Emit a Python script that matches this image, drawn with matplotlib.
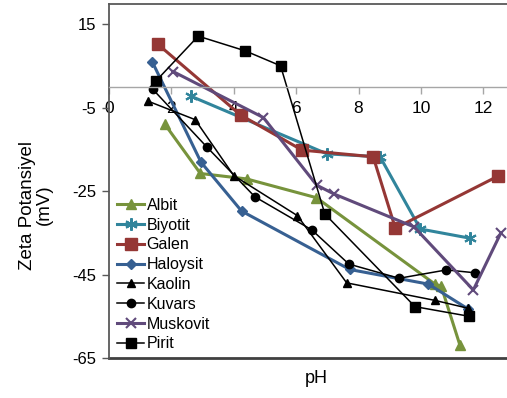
import matplotlib.pyplot as plt

plt.rcParams['font.family'] = ['Liberation Sans', 'DejaVu Sans']
plt.rcParams['axes.unicode_minus'] = False

albit_x = [1.79, 2.93, 4.41, 6.65, 10.45, 10.65, 11.25]
albit_y = [-9.0, -20.8, -22.1, -26.6, -47.3, -47.8, -61.9]

biyotit_x = [2.63, 6.99, 8.69, 9.98, 11.57]
biyotit_y = [-2.3, -16.1, -16.8, -34.1, -36.3]

galen_x = [1.56, 4.22, 6.19, 8.47, 9.18, 12.48]
galen_y = [10.2, -6.8, -15.2, -16.8, -33.9, -21.4]

haloysit_x = [1.39, 2.95, 4.25, 7.72, 10.24, 11.52]
haloysit_y = [5.9, -18.1, -29.8, -43.8, -47.3, -53.3]

kaolin_x = [1.26, 2.76, 4.0, 6.04, 7.62, 10.45, 11.52]
kaolin_y = [-3.5, -7.9, -21.3, -30.9, -47.0, -51.2, -53.1]

kuvars_x = [1.40, 3.13, 4.68, 6.50, 7.69, 9.30, 10.82, 11.75]
kuvars_y = [-0.6, -14.4, -26.4, -34.3, -42.5, -45.9, -43.9, -44.6]

muskovit_x = [2.06, 4.95, 6.66, 7.21, 9.78, 11.68, 12.56]
muskovit_y = [3.6, -7.4, -23.6, -25.7, -33.6, -48.7, -35.1]

pirit_x = [1.51, 2.86, 4.36, 5.5, 6.92, 9.81, 11.54]
pirit_y = [1.4, 12.1, 8.6, 5.0, -30.5, -52.7, -55.0]

x_ticks = [0, 2, 4, 6, 8, 10, 12]
y_ticks = [-65, -45, -25, -5, 15]

fig = plt.figure(figsize=(5.07, 3.98), dpi=100)
ax = fig.add_axes([109 / 507, 40 / 398, 1 - 109 / 507, 354 / 398])

ax.plot(albit_x, albit_y, color='#77933C', lw=2.2, marker='^', ms=7, label='Albit')
ax.plot(biyotit_x, biyotit_y, color='#31859C', lw=2.2, marker=(6, 2, 0), ms=9,
        mew=1.5, label='Biyotit')
ax.plot(galen_x, galen_y, color='#953735', lw=2.2, marker='s', ms=8, label='Galen')
ax.plot(haloysit_x, haloysit_y, color='#376092', lw=2.2, marker='D', ms=5, label='Haloysit')
ax.plot(kaolin_x, kaolin_y, color='black', lw=1.1, marker='^', ms=6, label='Kaolin')
ax.plot(kuvars_x, kuvars_y, color='black', lw=1.1, marker='o', ms=6, label='Kuvars')
ax.plot(muskovit_x, muskovit_y, color='#604A7B', lw=2.2, marker='x', ms=7, mew=1.5,
        label='Muskovit')
ax.plot(pirit_x, pirit_y, color='black', lw=1.1, marker='s', ms=6.5, label='Pirit')

ax.set_xlim(0, 12.76)
ax.set_ylim(-65, 19.8)

# x axis crosses at zero
ax.spines['bottom'].set_position(('data', 0))
ax.spines['bottom'].set_color('#a6a6a6')
ax.spines['bottom'].set_linewidth(1)
ax.spines['right'].set_visible(False)
for s in ['left', 'top']:
    ax.spines[s].set_color('#595959')
    ax.spines[s].set_linewidth(1.3)
ax.axhline(-65, color='#404040', lw=2, clip_on=False)

ax.set_xticks(x_ticks)
ax.set_yticks(y_ticks)
ax.tick_params(axis='x', direction='out', length=5, width=1, color='#a6a6a6',
               labelsize=12.5, pad=5)
ax.tick_params(axis='y', direction='out', length=5, width=1, color='#595959',
               labelsize=12, pad=4)

ax.set_xlabel('pH', fontsize=13)
ax.xaxis.set_label_coords(0.52, -0.035)
ax.set_ylabel('Zeta Potansiyel\n(mV)', fontsize=13.5, linespacing=1.0)
ax.yaxis.set_label_coords(-0.14, 0.432)

ax.legend(loc='upper left', bbox_to_anchor=(0.0, 0.475), frameon=False,
          fontsize=11.5, handlelength=1.7, handletextpad=0.15,
          labelspacing=0.3, borderaxespad=0.1)

fig.savefig('out.png', dpi=100)
